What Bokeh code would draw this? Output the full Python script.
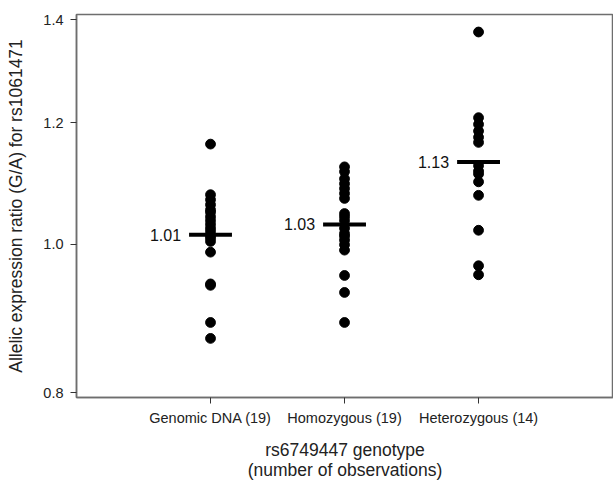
from bokeh.plotting import figure
from bokeh.models import FixedTicker, PrintfTickFormatter, Range1d
from bokeh.core.properties import value
from bokeh.embed import file_html
from bokeh.resources import INLINE

categories = ["Genomic DNA (19)", "Homozygous (19)", "Heterozygous (14)"]
genomic_dna = [1.162, 1.077, 1.069, 1.061, 1.053, 1.049, 1.042, 1.036, 1.030, 1.024,
               1.019, 1.013, 1.009, 1.004, 0.988, 0.942, 0.940, 0.889, 0.868]
homozygous = [1.123, 1.115, 1.103, 1.095, 1.087, 1.079, 1.071, 1.047, 1.042, 1.036,
              1.024, 1.016, 1.012, 1.006, 0.999, 0.991, 0.954, 0.930, 0.889]
heterozygous = [1.375, 1.209, 1.197, 1.185, 1.174, 1.165, 1.125, 1.116, 1.111, 1.098,
                1.076, 1.021, 0.968, 0.955]
means = [1.014, 1.030, 1.131]
y_ticks = [0.8, 1.0, 1.2, 1.4]

groups = [genomic_dna, homozygous, heterozygous]
FONT = "Liberation Sans"

p = figure(width=613, height=482, y_axis_type="log",
           x_range=Range1d(0, 4.007), y_range=Range1d(0.7943, 1.4116),
           output_backend="svg", toolbar_location=None,
           min_border_left=76, min_border_right=0, min_border_top=14, min_border_bottom=81)

p.grid.visible = False
p.outline_line_color = "#6e6e6e"
p.outline_line_width = 1.5

for i, vals in enumerate(groups):
    xs = [i + 1] * len(vals)
    p.scatter(xs, vals, size=9.8, color="black")

half = 0.16
bx = [i + 1 for i in range(len(categories))]
p.segment(x0=[x - half for x in bx], x1=[x + half for x in bx], y0=means, y1=means,
          line_width=4, line_color="black", line_cap="butt")
p.text(x=[x - half for x in bx], y=means, text=[f"{m:.2f}" for m in means],
       x_offset=-8, text_align="right", text_baseline="middle",
       text_font=value(FONT), text_font_size="16px", text_color="#111111")

for ax in (p.xaxis[0], p.yaxis[0]):
    ax.axis_line_color = "#6e6e6e"
    ax.axis_line_width = 1.5
    ax.major_tick_line_color = "#333333"
    ax.major_tick_out = 6
    ax.major_tick_in = 0
    ax.minor_tick_line_color = None
    ax.major_label_text_font = FONT
    ax.major_label_text_font_size = "14.5px"
    ax.major_label_text_color = "#222222"
    ax.axis_label_text_font = FONT
    ax.axis_label_text_font_size = "17.5px"
    ax.axis_label_text_font_style = "normal"
    ax.axis_label_text_color = "#222222"

p.xaxis.ticker = FixedTicker(ticks=bx)
p.xaxis.major_label_overrides = {x: c for x, c in zip(bx, categories)}
p.xaxis.major_label_standoff = 6
p.xaxis.axis_label = "rs6749447 genotype\n(number of observations)"
p.xaxis.axis_label_standoff = 11
p.xaxis.axis_label_text_line_height = 1.0

p.yaxis.ticker = FixedTicker(ticks=y_ticks)
p.yaxis.formatter = PrintfTickFormatter(format="%.1f")
p.yaxis.major_label_standoff = 7
p.yaxis.axis_label = "Allelic expression ratio (G/A) for rs1061471"
p.yaxis.axis_label_standoff = 14

open("out.html", "w").write(file_html(p, INLINE))
